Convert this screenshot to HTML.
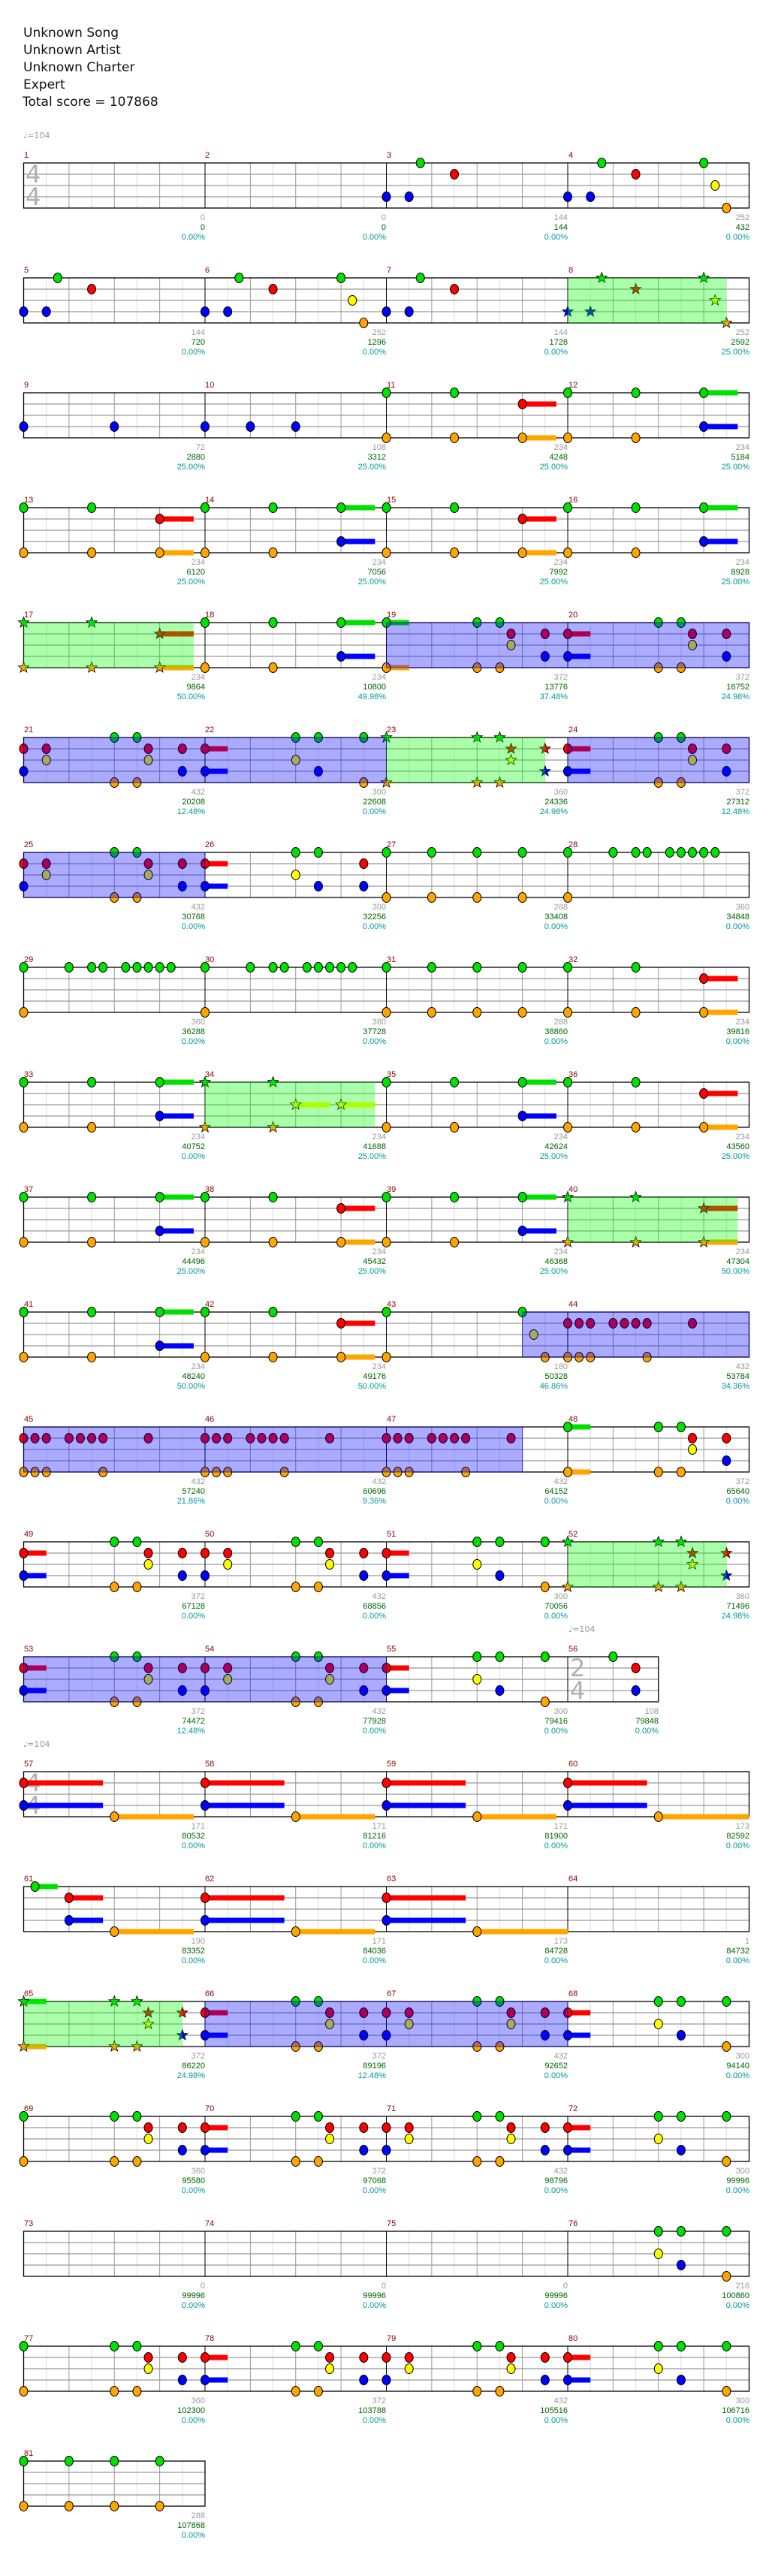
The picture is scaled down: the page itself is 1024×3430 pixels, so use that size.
<!DOCTYPE html>
<html><head><meta charset="utf-8">
<style>
html,body{margin:0;padding:0;background:#fff;}
svg{display:block;}
.t{font-family:"DejaVu Sans","Liberation Sans",sans-serif;font-size:17px;fill:#111;}
.mn{font-family:"Liberation Sans",sans-serif;font-size:11px;fill:#8b0000;}
.l{font-family:"Liberation Sans",sans-serif;font-size:11px;text-anchor:end;}
.a{fill:#999;}.b{fill:#006400;}.c{fill:#009999;}
.tp{font-family:"DejaVu Sans","Liberation Sans",sans-serif;font-size:11px;fill:#999;}
.ts{font-family:"DejaVu Sans","Liberation Sans",sans-serif;font-size:32px;fill:#b0b0b0;}
</style></head><body>
<svg id="s" width="1024" height="3430" xmlns="http://www.w3.org/2000/svg">
<rect width="1024" height="3430" fill="#fff"/>
<g id="grid"></g>
<text class="t" x="31" y="49">Unknown Song</text>
<text class="t" x="31" y="72">Unknown Artist</text>
<text class="t" x="31" y="95">Unknown Charter</text>
<text class="t" x="31" y="118">Expert</text>
<text class="t" x="30" y="141">Total score = 107868</text>
<text class="tp" x="31" y="184">♩=104</text>
<text class="tp" x="757" y="2173">♩=104</text>
<text class="tp" x="31" y="2326">♩=104</text>
<text class="ts" x="34" y="243">4</text><text class="ts" x="34" y="273">4</text>
<text class="ts" x="759" y="2232">2</text><text class="ts" x="759" y="2262">4</text>
<text class="ts" x="34" y="2385">4</text><text class="ts" x="34" y="2415">4</text>
<g id="labels"></g>
<g transform="translate(0,217)"><text class="mn" x="32" y="-7">1</text><text class="mn" x="273" y="-7">2</text><text class="mn" x="515" y="-7">3</text><text class="mn" x="757" y="-7">4</text>
<text class="l a" x="273" y="76">0</text><text class="l b" x="273" y="89">0</text><text class="l c" x="273" y="102">0.00%</text>
<text class="l a" x="514" y="76">0</text><text class="l b" x="514" y="89">0</text><text class="l c" x="514" y="102">0.00%</text>
<text class="l a" x="756" y="76">144</text><text class="l b" x="756" y="89">144</text><text class="l c" x="756" y="102">0.00%</text>
<text class="l a" x="998" y="76">252</text><text class="l b" x="998" y="89">432</text><text class="l c" x="998" y="102">0.00%</text></g>
<g transform="translate(0,370)"><text class="mn" x="32" y="-7">5</text><text class="mn" x="273" y="-7">6</text><text class="mn" x="515" y="-7">7</text><text class="mn" x="757" y="-7">8</text>
<text class="l a" x="273" y="76">144</text><text class="l b" x="273" y="89">720</text><text class="l c" x="273" y="102">0.00%</text>
<text class="l a" x="514" y="76">252</text><text class="l b" x="514" y="89">1296</text><text class="l c" x="514" y="102">0.00%</text>
<text class="l a" x="756" y="76">144</text><text class="l b" x="756" y="89">1728</text><text class="l c" x="756" y="102">0.00%</text>
<text class="l a" x="998" y="76">252</text><text class="l b" x="998" y="89">2592</text><text class="l c" x="998" y="102">25.00%</text></g>
<g transform="translate(0,523)"><text class="mn" x="32" y="-7">9</text><text class="mn" x="273" y="-7">10</text><text class="mn" x="515" y="-7">11</text><text class="mn" x="757" y="-7">12</text>
<text class="l a" x="273" y="76">72</text><text class="l b" x="273" y="89">2880</text><text class="l c" x="273" y="102">25.00%</text>
<text class="l a" x="514" y="76">108</text><text class="l b" x="514" y="89">3312</text><text class="l c" x="514" y="102">25.00%</text>
<text class="l a" x="756" y="76">234</text><text class="l b" x="756" y="89">4248</text><text class="l c" x="756" y="102">25.00%</text>
<text class="l a" x="998" y="76">234</text><text class="l b" x="998" y="89">5184</text><text class="l c" x="998" y="102">25.00%</text></g>
<g transform="translate(0,676)"><text class="mn" x="32" y="-7">13</text><text class="mn" x="273" y="-7">14</text><text class="mn" x="515" y="-7">15</text><text class="mn" x="757" y="-7">16</text>
<text class="l a" x="273" y="76">234</text><text class="l b" x="273" y="89">6120</text><text class="l c" x="273" y="102">25.00%</text>
<text class="l a" x="514" y="76">234</text><text class="l b" x="514" y="89">7056</text><text class="l c" x="514" y="102">25.00%</text>
<text class="l a" x="756" y="76">234</text><text class="l b" x="756" y="89">7992</text><text class="l c" x="756" y="102">25.00%</text>
<text class="l a" x="998" y="76">234</text><text class="l b" x="998" y="89">8928</text><text class="l c" x="998" y="102">25.00%</text></g>
<g transform="translate(0,829)"><text class="mn" x="32" y="-7">17</text><text class="mn" x="273" y="-7">18</text><text class="mn" x="515" y="-7">19</text><text class="mn" x="757" y="-7">20</text>
<text class="l a" x="273" y="76">234</text><text class="l b" x="273" y="89">9864</text><text class="l c" x="273" y="102">50.00%</text>
<text class="l a" x="514" y="76">234</text><text class="l b" x="514" y="89">10800</text><text class="l c" x="514" y="102">49.98%</text>
<text class="l a" x="756" y="76">372</text><text class="l b" x="756" y="89">13776</text><text class="l c" x="756" y="102">37.48%</text>
<text class="l a" x="998" y="76">372</text><text class="l b" x="998" y="89">16752</text><text class="l c" x="998" y="102">24.98%</text></g>
<g transform="translate(0,982)"><text class="mn" x="32" y="-7">21</text><text class="mn" x="273" y="-7">22</text><text class="mn" x="515" y="-7">23</text><text class="mn" x="757" y="-7">24</text>
<text class="l a" x="273" y="76">432</text><text class="l b" x="273" y="89">20208</text><text class="l c" x="273" y="102">12.48%</text>
<text class="l a" x="514" y="76">300</text><text class="l b" x="514" y="89">22608</text><text class="l c" x="514" y="102">0.00%</text>
<text class="l a" x="756" y="76">360</text><text class="l b" x="756" y="89">24336</text><text class="l c" x="756" y="102">24.98%</text>
<text class="l a" x="998" y="76">372</text><text class="l b" x="998" y="89">27312</text><text class="l c" x="998" y="102">12.48%</text></g>
<g transform="translate(0,1135)"><text class="mn" x="32" y="-7">25</text><text class="mn" x="273" y="-7">26</text><text class="mn" x="515" y="-7">27</text><text class="mn" x="757" y="-7">28</text>
<text class="l a" x="273" y="76">432</text><text class="l b" x="273" y="89">30768</text><text class="l c" x="273" y="102">0.00%</text>
<text class="l a" x="514" y="76">300</text><text class="l b" x="514" y="89">32256</text><text class="l c" x="514" y="102">0.00%</text>
<text class="l a" x="756" y="76">288</text><text class="l b" x="756" y="89">33408</text><text class="l c" x="756" y="102">0.00%</text>
<text class="l a" x="998" y="76">360</text><text class="l b" x="998" y="89">34848</text><text class="l c" x="998" y="102">0.00%</text></g>
<g transform="translate(0,1288)"><text class="mn" x="32" y="-7">29</text><text class="mn" x="273" y="-7">30</text><text class="mn" x="515" y="-7">31</text><text class="mn" x="757" y="-7">32</text>
<text class="l a" x="273" y="76">360</text><text class="l b" x="273" y="89">36288</text><text class="l c" x="273" y="102">0.00%</text>
<text class="l a" x="514" y="76">360</text><text class="l b" x="514" y="89">37728</text><text class="l c" x="514" y="102">0.00%</text>
<text class="l a" x="756" y="76">288</text><text class="l b" x="756" y="89">38860</text><text class="l c" x="756" y="102">0.00%</text>
<text class="l a" x="998" y="76">234</text><text class="l b" x="998" y="89">39816</text><text class="l c" x="998" y="102">0.00%</text></g>
<g transform="translate(0,1441)"><text class="mn" x="32" y="-7">33</text><text class="mn" x="273" y="-7">34</text><text class="mn" x="515" y="-7">35</text><text class="mn" x="757" y="-7">36</text>
<text class="l a" x="273" y="76">234</text><text class="l b" x="273" y="89">40752</text><text class="l c" x="273" y="102">0.00%</text>
<text class="l a" x="514" y="76">234</text><text class="l b" x="514" y="89">41688</text><text class="l c" x="514" y="102">25.00%</text>
<text class="l a" x="756" y="76">234</text><text class="l b" x="756" y="89">42624</text><text class="l c" x="756" y="102">25.00%</text>
<text class="l a" x="998" y="76">234</text><text class="l b" x="998" y="89">43560</text><text class="l c" x="998" y="102">25.00%</text></g>
<g transform="translate(0,1594)"><text class="mn" x="32" y="-7">37</text><text class="mn" x="273" y="-7">38</text><text class="mn" x="515" y="-7">39</text><text class="mn" x="757" y="-7">40</text>
<text class="l a" x="273" y="76">234</text><text class="l b" x="273" y="89">44496</text><text class="l c" x="273" y="102">25.00%</text>
<text class="l a" x="514" y="76">234</text><text class="l b" x="514" y="89">45432</text><text class="l c" x="514" y="102">25.00%</text>
<text class="l a" x="756" y="76">234</text><text class="l b" x="756" y="89">46368</text><text class="l c" x="756" y="102">25.00%</text>
<text class="l a" x="998" y="76">234</text><text class="l b" x="998" y="89">47304</text><text class="l c" x="998" y="102">50.00%</text></g>
<g transform="translate(0,1747)"><text class="mn" x="32" y="-7">41</text><text class="mn" x="273" y="-7">42</text><text class="mn" x="515" y="-7">43</text><text class="mn" x="757" y="-7">44</text>
<text class="l a" x="273" y="76">234</text><text class="l b" x="273" y="89">48240</text><text class="l c" x="273" y="102">50.00%</text>
<text class="l a" x="514" y="76">234</text><text class="l b" x="514" y="89">49176</text><text class="l c" x="514" y="102">50.00%</text>
<text class="l a" x="756" y="76">180</text><text class="l b" x="756" y="89">50328</text><text class="l c" x="756" y="102">46.86%</text>
<text class="l a" x="998" y="76">432</text><text class="l b" x="998" y="89">53784</text><text class="l c" x="998" y="102">34.36%</text></g>
<g transform="translate(0,1900)"><text class="mn" x="32" y="-7">45</text><text class="mn" x="273" y="-7">46</text><text class="mn" x="515" y="-7">47</text><text class="mn" x="757" y="-7">48</text>
<text class="l a" x="273" y="76">432</text><text class="l b" x="273" y="89">57240</text><text class="l c" x="273" y="102">21.86%</text>
<text class="l a" x="514" y="76">432</text><text class="l b" x="514" y="89">60696</text><text class="l c" x="514" y="102">9.36%</text>
<text class="l a" x="756" y="76">432</text><text class="l b" x="756" y="89">64152</text><text class="l c" x="756" y="102">0.00%</text>
<text class="l a" x="998" y="76">372</text><text class="l b" x="998" y="89">65640</text><text class="l c" x="998" y="102">0.00%</text></g>
<g transform="translate(0,2053)"><text class="mn" x="32" y="-7">49</text><text class="mn" x="273" y="-7">50</text><text class="mn" x="515" y="-7">51</text><text class="mn" x="757" y="-7">52</text>
<text class="l a" x="273" y="76">372</text><text class="l b" x="273" y="89">67128</text><text class="l c" x="273" y="102">0.00%</text>
<text class="l a" x="514" y="76">432</text><text class="l b" x="514" y="89">68856</text><text class="l c" x="514" y="102">0.00%</text>
<text class="l a" x="756" y="76">300</text><text class="l b" x="756" y="89">70056</text><text class="l c" x="756" y="102">0.00%</text>
<text class="l a" x="998" y="76">360</text><text class="l b" x="998" y="89">71496</text><text class="l c" x="998" y="102">24.98%</text></g>
<g transform="translate(0,2206)"><text class="mn" x="32" y="-7">53</text><text class="mn" x="273" y="-7">54</text><text class="mn" x="515" y="-7">55</text><text class="mn" x="757" y="-7">56</text>
<text class="l a" x="273" y="76">372</text><text class="l b" x="273" y="89">74472</text><text class="l c" x="273" y="102">12.48%</text>
<text class="l a" x="514" y="76">432</text><text class="l b" x="514" y="89">77928</text><text class="l c" x="514" y="102">0.00%</text>
<text class="l a" x="756" y="76">300</text><text class="l b" x="756" y="89">79416</text><text class="l c" x="756" y="102">0.00%</text>
<text class="l a" x="877" y="76">108</text><text class="l b" x="877" y="89">79848</text><text class="l c" x="877" y="102">0.00%</text></g>
<g transform="translate(0,2359)"><text class="mn" x="32" y="-7">57</text><text class="mn" x="273" y="-7">58</text><text class="mn" x="515" y="-7">59</text><text class="mn" x="757" y="-7">60</text>
<text class="l a" x="273" y="76">171</text><text class="l b" x="273" y="89">80532</text><text class="l c" x="273" y="102">0.00%</text>
<text class="l a" x="514" y="76">171</text><text class="l b" x="514" y="89">81216</text><text class="l c" x="514" y="102">0.00%</text>
<text class="l a" x="756" y="76">171</text><text class="l b" x="756" y="89">81900</text><text class="l c" x="756" y="102">0.00%</text>
<text class="l a" x="998" y="76">173</text><text class="l b" x="998" y="89">82592</text><text class="l c" x="998" y="102">0.00%</text></g>
<g transform="translate(0,2512)"><text class="mn" x="32" y="-7">61</text><text class="mn" x="273" y="-7">62</text><text class="mn" x="515" y="-7">63</text><text class="mn" x="757" y="-7">64</text>
<text class="l a" x="273" y="76">190</text><text class="l b" x="273" y="89">83352</text><text class="l c" x="273" y="102">0.00%</text>
<text class="l a" x="514" y="76">171</text><text class="l b" x="514" y="89">84036</text><text class="l c" x="514" y="102">0.00%</text>
<text class="l a" x="756" y="76">173</text><text class="l b" x="756" y="89">84728</text><text class="l c" x="756" y="102">0.00%</text>
<text class="l a" x="998" y="76">1</text><text class="l b" x="998" y="89">84732</text><text class="l c" x="998" y="102">0.00%</text></g>
<g transform="translate(0,2665)"><text class="mn" x="32" y="-7">65</text><text class="mn" x="273" y="-7">66</text><text class="mn" x="515" y="-7">67</text><text class="mn" x="757" y="-7">68</text>
<text class="l a" x="273" y="76">372</text><text class="l b" x="273" y="89">86220</text><text class="l c" x="273" y="102">24.98%</text>
<text class="l a" x="514" y="76">372</text><text class="l b" x="514" y="89">89196</text><text class="l c" x="514" y="102">12.48%</text>
<text class="l a" x="756" y="76">432</text><text class="l b" x="756" y="89">92652</text><text class="l c" x="756" y="102">0.00%</text>
<text class="l a" x="998" y="76">300</text><text class="l b" x="998" y="89">94140</text><text class="l c" x="998" y="102">0.00%</text></g>
<g transform="translate(0,2818)"><text class="mn" x="32" y="-7">69</text><text class="mn" x="273" y="-7">70</text><text class="mn" x="515" y="-7">71</text><text class="mn" x="757" y="-7">72</text>
<text class="l a" x="273" y="76">360</text><text class="l b" x="273" y="89">95580</text><text class="l c" x="273" y="102">0.00%</text>
<text class="l a" x="514" y="76">372</text><text class="l b" x="514" y="89">97068</text><text class="l c" x="514" y="102">0.00%</text>
<text class="l a" x="756" y="76">432</text><text class="l b" x="756" y="89">98796</text><text class="l c" x="756" y="102">0.00%</text>
<text class="l a" x="998" y="76">300</text><text class="l b" x="998" y="89">99996</text><text class="l c" x="998" y="102">0.00%</text></g>
<g transform="translate(0,2971)"><text class="mn" x="32" y="-7">73</text><text class="mn" x="273" y="-7">74</text><text class="mn" x="515" y="-7">75</text><text class="mn" x="757" y="-7">76</text>
<text class="l a" x="273" y="76">0</text><text class="l b" x="273" y="89">99996</text><text class="l c" x="273" y="102">0.00%</text>
<text class="l a" x="514" y="76">0</text><text class="l b" x="514" y="89">99996</text><text class="l c" x="514" y="102">0.00%</text>
<text class="l a" x="756" y="76">0</text><text class="l b" x="756" y="89">99996</text><text class="l c" x="756" y="102">0.00%</text>
<text class="l a" x="998" y="76">216</text><text class="l b" x="998" y="89">100860</text><text class="l c" x="998" y="102">0.00%</text></g>
<g transform="translate(0,3124)"><text class="mn" x="32" y="-7">77</text><text class="mn" x="273" y="-7">78</text><text class="mn" x="515" y="-7">79</text><text class="mn" x="757" y="-7">80</text>
<text class="l a" x="273" y="76">360</text><text class="l b" x="273" y="89">102300</text><text class="l c" x="273" y="102">0.00%</text>
<text class="l a" x="514" y="76">372</text><text class="l b" x="514" y="89">103788</text><text class="l c" x="514" y="102">0.00%</text>
<text class="l a" x="756" y="76">432</text><text class="l b" x="756" y="89">105516</text><text class="l c" x="756" y="102">0.00%</text>
<text class="l a" x="998" y="76">300</text><text class="l b" x="998" y="89">106716</text><text class="l c" x="998" y="102">0.00%</text></g>
<g transform="translate(0,3277)"><text class="mn" x="32" y="-7">81</text>
<text class="l a" x="273" y="76">288</text><text class="l b" x="273" y="89">107868</text><text class="l c" x="273" y="102">0.00%</text></g>
<g id="notes"></g>
</svg>
<script>
(function(){
var NS="http://www.w3.org/2000/svg";
var L=31.5,M=241.5,S=M/8;
function X(p){return L+p*S;}
var COL={g:"#00e000",r:"#ff0000",y:"#ffff00",b:"#0000ff",o:"#ffa500"};
var LANE={g:0,r:1,y:2,b:3,o:4};
var R18="0go 4go 5go 5.5ry 7rb 8rb-9 12go 13go 13.5ry 15rb 16rb 17ry 20go 21go 21.5ry 23rb 24rb-25 28gy 29gb 31go";
var rows=[
[4,"16b 17b 17.5g 19r 24b 25b 25.5g 27r 30g 30.5y 31o",[]],
[4,"0b 1b 1.5g 3r 8b 9b 9.5g 11r 14g 14.5y 15o 16b 17b 17.5g 19r 24b 25b 25.5g 27r 30g 30.5y 31o",[[24,31,"g"]]],
[4,"0b 4b 8b 10b 12b 16go 19go 22ro-23.5 24go 27go 30gb-31.5",[]],
[4,"0go 3go 6ro-7.5 8go 11go 14gb-15.5 16go 19go 22ro-23.5 24go 27go 30gb-31.5",[]],
[4,"0go 3go 6ro-7.5 8go 11go 14gb-15.5 16go-17 20go 21go 21.5ry 23rb 24rb-25 28go 29go 29.5ry 31rb",[[0,7.5,"g"],[16,32,"b"]]],
[4,"0rb 1ry 4go 5go 5.5ry 7rb 8rb-9 12gy 13gb 15go 16go 20go 21go 21.5ry 23rb 24rb-25 28go 29go 29.5ry 31rb",[[0,16,"b"],[16,23,"g"],[24,32,"b"]]],
[4,"0rb 1ry 4go 5go 5.5ry 7rb 8rb-9 12gy 13gb 15rb 16go 18go 20go 22go 24go 26g 27g 27.5g 28.5g 29g 29.5g 30g 30.5g",[[0,8,"b"]]],
[4,"0go 2g 3g 3.5g 4.5g 5g 5.5g 6g 6.5g 8go 10g 11g 11.5g 12.5g 13g 13.5g 14g 14.5g 16go 18go 20go 22go 24go 27go 30ro-31.5",[]],
[4,"0go 3go 6gb-7.5 8go 11go 12y-13.5 14y-15.5 16go 19go 22gb-23.5 24go 27go 30ro-31.5",[[8,15.5,"g"]]],
[4,"0go 3go 6gb-7.5 8go 11go 14ro-15.5 16go 19go 22gb-23.5 24go 27go 30ro-31.5",[[24,31.5,"g"]]],
[4,"0go 3go 6gb-7.5 8go 11go 14ro-15.5 16go 22g 22.5y 23o 24ro 24.5ro 25ro 26r 26.5r 27r 27.5ro 29.5r",[[22,32,"b"]]],
[4,"0ro 0.5ro 1ro 2r 2.5r 3r 3.5ro 5.5r 8ro 8.5ro 9ro 10r 10.5r 11r 11.5ro 13.5r 16ro 16.5ro 17ro 18r 18.5r 19r 19.5ro 21.5r 24go-25 28go 29go 29.5ry 31rb",[[0,22,"b"]]],
[4,"0rb-1 4go 5go 5.5ry 7rb 8rb 9ry 12go 13go 13.5ry 15rb 16rb-17 20gy 21gb 23go 24go 28go 29go 29.5ry 31rb",[[24,31,"g"]]],
[3.5,"0rb-1 4go 5go 5.5ry 7rb 8rb 9ry 12go 13go 13.5ry 15rb 16rb-17 20gy 21gb 23go 26g 27rb",[[0,16,"b"]]],
[4,"0rb-3.5 4o-7.5 8rb-11.5 12o-15.5 16rb-19.5 20o-23.5 24rb-27.5 28o-32",[]],
[4,"0.5g-1.5 2rb-3.5 4o-7.5 8rb-11.5 12o-15.5 16rb-19.5 20o-24",[]],
[4,"0go-1 4go 5go 5.5ry 7rb 8rb-9 12go 13go 13.5ry 15rb 16rb 17ry 20go 21go 21.5ry 23rb 24rb-25 28gy 29gb 31go",[[0,7,"g"],[8,24,"b"]]],
[4,R18,[]],
[4,"28gy 29gb 31go",[]],
[4,R18,[]],
[1,"0go 2go 4go 6go",[]]
];
var grid=document.getElementById("grid"),notes=document.getElementById("notes");
function el(p,tag,a){var e=document.createElementNS(NS,tag);for(var k in a)e.setAttribute(k,a[k]);p.appendChild(e);return e;}
function star(cx,cy,r){var pts=[];for(var i=0;i<10;i++){var rr=i%2?r*0.42:r;var an=-Math.PI/2+i*Math.PI/5;pts.push((cx+rr*Math.cos(an)).toFixed(1)+","+(cy+rr*Math.sin(an)).toFixed(1));}return pts.join(" ");}
rows.forEach(function(row,i){
 var top=217+153*i,n=row[0],end=X(n*8),k;
 for(k=1;k<n*8;k++){ if(k%8==0)continue; el(grid,"line",{x1:X(k),x2:X(k),y1:top,y2:top+60,stroke:k%2?"#dddddd":"#999999","stroke-width":1});}
 for(k=1;k<4;k++) el(grid,"line",{x1:L,x2:end,y1:top+15*k,y2:top+15*k,stroke:"#999999","stroke-width":1.2});
 for(k=8;k<n*8;k+=8) el(grid,"line",{x1:X(k),x2:X(k),y1:top,y2:top+60,stroke:"#000","stroke-width":1});
 el(grid,"rect",{x:L,y:top,width:end-L,height:60,fill:"none",stroke:"#000","stroke-width":1.3});
 var g=el(notes,"g",{});
 var sps=row[2];
 var toks=row[1].split(" ");
 var heads=[];
 toks.forEach(function(t){
  var m=t.match(/^([\d.]+)([gryboe]+)(?:-([\d.]+))?$/); if(!m)return;
  var p=parseFloat(m[1]),lanes=m[2],e=m[3]?parseFloat(m[3]):null;
  var isStar=sps.some(function(s){return s[2]=="g"&&p>=s[0]&&p<=s[1];});
  for(var j=0;j<lanes.length;j++){
   var c=lanes[j],y=top+15*LANE[c];
   if(e!==null) el(g,"rect",{x:X(p),y:y-3.5,width:X(e)-X(p),height:7,fill:COL[c]});
   heads.push([X(p),y,c,isStar]);
  }
 });
 heads.forEach(function(h){
  if(h[3]) el(g,"polygon",{points:star(h[0],h[1],7.5),fill:COL[h[2]],stroke:"#000","stroke-width":0.8});
  else el(g,"ellipse",{cx:h[0],cy:h[1],rx:5.5,ry:6.5,fill:COL[h[2]],stroke:"#000","stroke-width":1});
 });
 sps.forEach(function(s){
  el(g,"rect",{x:X(s[0]),y:top,width:X(s[1])-X(s[0]),height:60,fill:s[2]=="g"?"rgba(0,255,0,0.33)":"rgba(0,0,255,0.33)",stroke:s[2]=="b"?"rgba(0,0,128,0.6)":"none","stroke-width":1});
 });
});
})();
</script>
</body></html>
